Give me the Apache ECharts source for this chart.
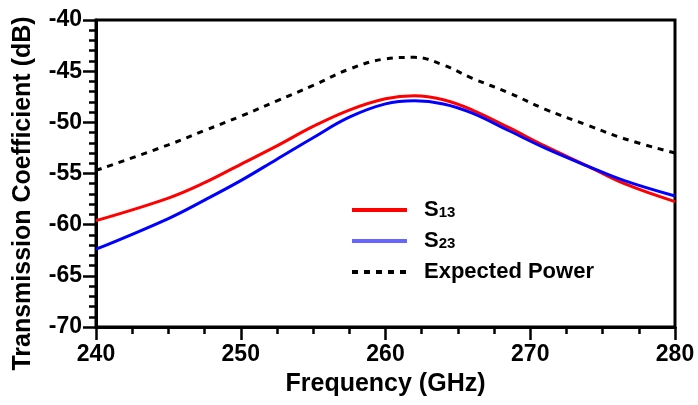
<!DOCTYPE html>
<html>
<head>
<meta charset="utf-8">
<script src="https://cdn.jsdelivr.net/npm/echarts@6/dist/echarts.min.js"></script>
<style>
    html, body { margin: 0; padding: 0; background: #fff; }
    #chart { width: 698px; height: 405px; }
</style>
</head>
<body>
<div id="chart"></div>
<script>
/* ------------------------------------ 数据 ------------------------------------ */
let freq = [240, 245, 247.5, 250, 252.5, 255, 257.5, 260, 262, 264, 266, 268.5, 271, 274, 276.5, 280];
let s13 = [-59.6, -57.4, -55.9, -54.1, -52.3, -50.4, -48.8, -47.7, -47.4, -47.8, -48.8, -50.5, -52.3, -54.3, -56.0, -57.75];
let s23 = [-62.4, -59.4, -57.6, -55.7, -53.6, -51.5, -49.5, -48.2, -47.9, -48.2, -49.1, -50.8, -52.5, -54.3, -55.7, -57.2];
let expected = [-54.7, -52.2, -50.8, -49.4, -47.9, -46.4, -44.8, -43.8, -43.65, -44.4, -45.7, -47.1, -48.7, -50.3, -51.6, -53.0];

let xTicks = [240, 250, 260, 270, 280];
let yTicks = [-70, -65, -60, -55, -50, -45, -40];

let pairs = function (ys) {
    return freq.map((x, i) => [x, ys[i]]);
};

let font = 'Liberation Sans, Arial, sans-serif';

let axisCommon = {
    axisLine: { lineStyle: { color: '#000', width: 3 } },
    axisTick: { inside: false, length: 13, lineStyle: { color: '#000', width: 2.5 } },
    minorTick: { show: true, length: 7, lineStyle: { color: '#000', width: 2.5 } },
    splitLine: { show: false },
    nameLocation: 'middle'
};

let option = {
    backgroundColor: '#fff',
    animation: false,
    grid: {
        left: 96, right: 23, top: 20, bottom: 78,
        show: true, borderColor: '#000', borderWidth: 3
    },
    xAxis: Object.assign({}, axisCommon, {
        type: 'value',
        min: xTicks[0],
        max: xTicks[xTicks.length - 1],
        interval: 10,
        minorTick: Object.assign({}, axisCommon.minorTick, { splitNumber: 4 }),
        name: 'Frequency (GHz)',
        nameGap: 45,
        nameTextStyle: { color: '#000', fontSize: 25, fontWeight: 'bold', fontFamily: font },
        axisLabel: { color: '#000', fontSize: 23, fontWeight: 'bold', fontFamily: font, margin: 16 }
    }),
    yAxis: Object.assign({}, axisCommon, {
        type: 'value',
        min: yTicks[0],
        max: yTicks[yTicks.length - 1],
        interval: 5,
        minorTick: Object.assign({}, axisCommon.minorTick, { splitNumber: 5 }),
        name: 'Transmission Coefficient (dB)',
        nameGap: 60,
        nameTextStyle: { color: '#000', fontSize: 25, fontWeight: 'bold', fontFamily: font, padding: [0, 40, 0, 0] },
        axisLabel: { color: '#000', fontSize: 23, fontWeight: 'bold', fontFamily: font, margin: 14 }
    }),
    legend: {
        orient: 'vertical',
        left: 350,
        top: 199,
        padding: 0,
        itemWidth: 55,
        itemHeight: 14,
        itemGap: 9,
        itemStyle: { opacity: 0 },
        lineStyle: { width: 4 },
        data: [
            { name: 'S13' },
            { name: 'S23', lineStyle: { color: '#6666ff', width: 4 } },
            { name: 'Expected Power' }
        ],
        formatter: function (name) {
            if (name === 'S13') return '{b|S}{s|13}';
            if (name === 'S23') return '{b|S}{s|23}';
            return '{b|' + name + '}';
        },
        textStyle: {
            color: '#000',
            fontFamily: font,
            padding: [0, 0, 0, 12],
            rich: {
                b: { fontSize: 22, fontWeight: 'bold', color: '#000', fontFamily: font, lineHeight: 22 },
                s: { fontSize: 15, fontWeight: 'bold', color: '#000', fontFamily: font, lineHeight: 22, padding: [6, 0, 0, 0] }
            }
        }
    },
    series: [
        {
            name: 'S13',
            type: 'line',
            smooth: 0.4,
            symbol: 'none',
            data: pairs(s13),
            lineStyle: { color: '#ff0000', width: 3 },
            itemStyle: { color: '#ff0000' }
        },
        {
            name: 'S23',
            type: 'line',
            smooth: 0.4,
            symbol: 'none',
            data: pairs(s23),
            lineStyle: { color: '#0000ff', width: 3 },
            itemStyle: { color: '#0000ff' }
        },
        {
            name: 'Expected Power',
            type: 'line',
            smooth: 0.4,
            symbol: 'none',
            data: pairs(expected),
            lineStyle: { color: '#000', width: 3, type: [6, 6] },
            itemStyle: { color: '#000' }
        }
    ]
};

echarts.init(document.querySelector('#chart')).setOption(option);
</script>
</body>
</html>
